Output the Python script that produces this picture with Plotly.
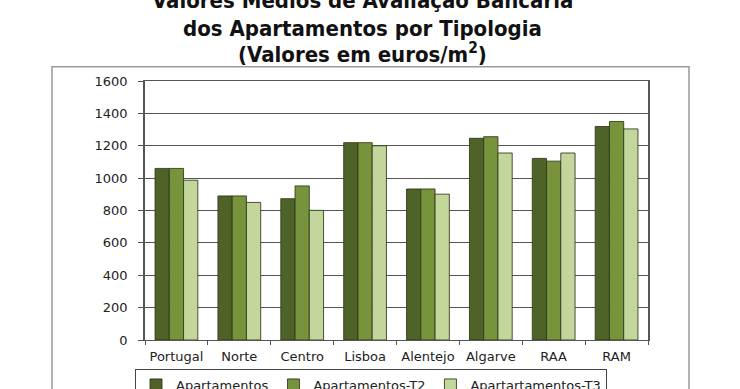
import plotly.graph_objects as go

categories = ["Portugal", "Norte", "Centro", "Lisboa", "Alentejo", "Algarve", "RAA", "RAM"]
apartamentos = [1060, 890, 873, 1219, 933, 1246, 1122, 1319]
apartamentos_t2 = [1060, 890, 952, 1219, 933, 1256, 1105, 1350]
apartamentos_t3 = [987, 850, 801, 1200, 901, 1155, 1155, 1304]
series_names = ["Apartamentos", "Apartamentos-T2", "Apartartamentos-T3"]
y_ticks = [0, 200, 400, 600, 800, 1000, 1200, 1400, 1600]

colors = ["#4F6228", "#77933C", "#C3D69B"]
W, H = 740, 389
L, R, T, B = 145, 648, 81, 340
pw, ph = R - L, B - T

def px(x):
    return (x - L) / pw

def py(y):
    return (B - y) / ph

fig = go.Figure()
for name, vals, c in zip(series_names, [apartamentos, apartamentos_t2, apartamentos_t3], colors):
    fig.add_trace(go.Bar(
        x=categories, y=vals, name=name,
        marker=dict(color=c, line=dict(color="rgba(45,55,25,0.85)", width=1)),
    ))

font_fam = "DejaVu Sans, Verdana, sans-serif"
title_font = dict(family="DejaVu Sans Condensed, DejaVu Sans, sans-serif", size=22, color="#111111", weight="bold")
titles = [("Valores Médios de Avaliação Bancária", 1.0),
          ("dos Apartamentos por Tipologia", 28.3),
          ("(Valores em euros/m<sup>2</sup>)", 53.3)]
annotations = []
for txt, yc in titles:
    annotations.append(dict(text="<b>" + txt + "</b>", x=px(362), y=py(yc), xref="paper", yref="paper",
                            xanchor="center", yanchor="middle", showarrow=False, font=title_font))

fig.update_layout(
    width=W, height=H, autosize=False,
    margin=dict(l=L, r=W - R, t=T, b=H - B, pad=0, autoexpand=False),
    paper_bgcolor="white", plot_bgcolor="white",
    barmode="group", bargap=0.32, bargroupgap=0,
    font=dict(family=font_fam, size=13, color="#222222"),
    annotations=annotations,
    shapes=[dict(type="rect", xref="paper", yref="paper",
                 x0=px(52), x1=px(689), y0=py(600), y1=py(66.7),
                 line=dict(color="#9a9a9a", width=1.5), layer="below")],
    legend=dict(orientation="h", x=px(135), y=py(369), xanchor="left", yanchor="top",
                bordercolor="#444444", borderwidth=1, font=dict(size=13, family=font_fam),
                bgcolor="white", itemwidth=30, tracegroupgap=0),
    xaxis=dict(showline=True, linecolor="#555555", linewidth=1, mirror=True,
               ticks="outside", tickson="boundaries", ticklen=4, tickcolor="#555555",
               showgrid=False, tickfont=dict(size=13), ticklabelstandoff=4, automargin=False),
    yaxis=dict(range=[0, 1600], tickvals=y_ticks, showline=True, linecolor="#555555", linewidth=1.5,
               mirror=True, ticks="outside", ticklen=5, tickcolor="#555555",
               showgrid=True, gridcolor="#555555", gridwidth=1, zeroline=False,
               tickfont=dict(size=13), ticklabelstandoff=8, automargin=False),
)

fig.write_html("out.html", config={"displayModeBar": False},
               post_script="document.body.style.margin='0';document.body.style.overflow='hidden';")
